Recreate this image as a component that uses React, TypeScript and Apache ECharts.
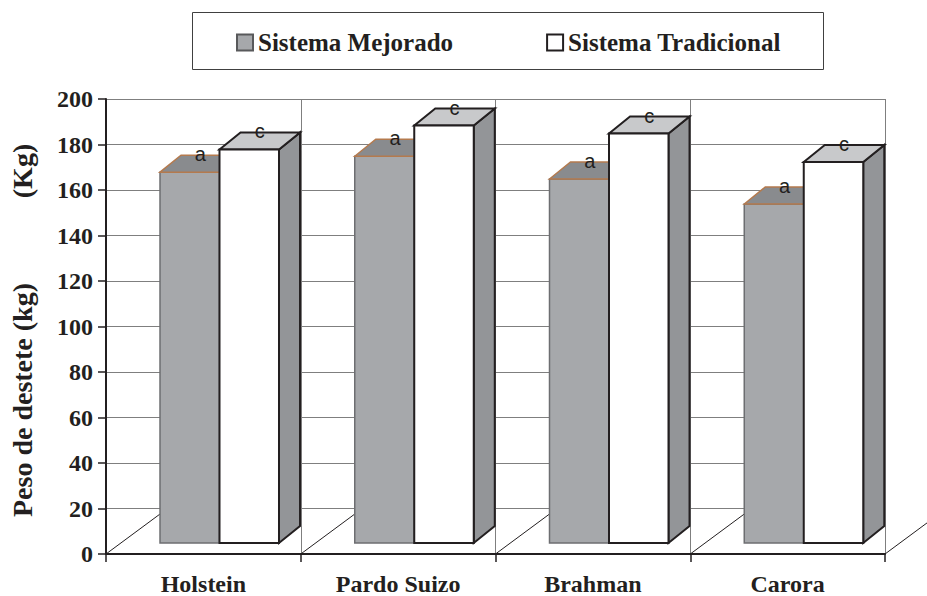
import React, { useEffect, useRef } from "react";
import * as echarts from "echarts";

const categories = ["Holstein", "Pardo Suizo", "Brahman", "Carora"];
const mejorado = [163, 170, 160, 149];
const tradicional = [173, 183.5, 180, 167.5];
const mejoradoLetters = ["a", "a", "a", "a"];
const tradicionalLetters = ["c", "c", "c", "c"];
const yTicks = { min: 0, max: 200, interval: 20 };

const SERIF = "'Liberation Serif', 'Times New Roman', serif";
const SANS = "'Liberation Sans', Arial, sans-serif";
const DARK = "#231f20";

export default function App() {
  const ref = useRef<HTMLDivElement>(null);
  useEffect(() => {
    document.body.style.margin = "0";
    const chart = echarts.init(ref.current!, null, { renderer: "svg" });

    const geom = (api: any, idx: number, v: number, which: number) => {
      const bw = api.size([1, 0])[0];
      const base = api.coord([idx, 0]);
      const top = api.coord([idx, v]);
      const w = bw * 0.3055;
      const left = base[0] - bw / 2 + bw * 0.2773 + which * w;
      const dx = bw * 0.108;
      const dy = 17;
      const B = base[1] - 11;
      const T = top[1] - 11;
      return { left, w, dx, dy, B, T };
    };

    const barItem = (which: number, letters: string[]) => (params: any, api: any) => {
      const idx = api.value(0);
      const v = api.value(1);
      const { left, w, dx, dy, B, T } = geom(api, idx, v, which);
      const R = left + w;
      const children: any[] = [];
      if (which === 0) {
        children.push({
          type: "rect",
          shape: { x: left, y: T, width: w, height: B - T },
          style: { fill: "#a6a8ab", stroke: "#6d6e71", lineWidth: 1.5 },
        });
        children.push({
          type: "polygon",
          shape: { points: [[left, T], [left + dx, T - dy], [R + dx, T - dy], [R, T]] },
          style: { fill: "#898b8e", stroke: "#b47a4e", lineWidth: 1.5 },
        });
      } else {
        children.push({
          type: "polygon",
          shape: { points: [[R, T], [R + dx, T - dy], [R + dx, B - dy], [R, B]] },
          style: { fill: "#939598", stroke: DARK, lineWidth: 2, lineJoin: "miter" },
        });
        children.push({
          type: "polygon",
          shape: { points: [[left, T], [left + dx, T - dy], [R + dx, T - dy], [R, T]] },
          style: { fill: "#c8c9cb", stroke: DARK, lineWidth: 2, lineJoin: "miter" },
        });
        children.push({
          type: "rect",
          shape: { x: left, y: T, width: w, height: B - T },
          style: { fill: "#ffffff", stroke: DARK, lineWidth: 2 },
        });
      }
      children.push({
        type: "text",
        style: {
          x: left + w / 2 + dx / 2,
          y: T - dy - 1,
          text: letters[params.dataIndex],
          fill: DARK,
          font: `20px ${SANS}`,
          textAlign: "center",
          textVerticalAlign: "middle",
        },
      });
      return { type: "group", children };
    };

    const floorItem = (params: any, api: any) => {
      const bw = api.size([1, 0])[0];
      const p = api.coord([api.value(0), 0]);
      const xs = [p[0] - bw / 2];
      if (params.dataIndex === categories.length - 1) xs.push(p[0] + bw / 2);
      return {
        type: "group",
        children: xs.map((x) => ({
          type: "line",
          shape: { x1: x, y1: p[1], x2: x + 62, y2: p[1] - 62 * 0.74 },
          style: { stroke: DARK, lineWidth: 1 },
        })),
      };
    };

    chart.setOption({
      animation: false,
      grid: { left: 106, right: 42, top: 99, bottom: 39, containLabel: false },
      legend: {
        left: 231,
        top: 25,
        itemWidth: 16,
        itemHeight: 16,
        itemGap: 93,
        textStyle: { fontFamily: SERIF, fontWeight: "bold", fontSize: 25, color: DARK },
        data: [
          { name: "Sistema Mejorado", icon: "rect", itemStyle: { color: "#a6a8ab", borderColor: "#58595b", borderWidth: 2 } },
          { name: "Sistema Tradicional", icon: "rect", itemStyle: { color: "#ffffff", borderColor: DARK, borderWidth: 2 } },
        ],
      },
      graphic: [
        {
          type: "rect",
          shape: { x: 192.5, y: 12.5, width: 631, height: 57 },
          style: { fill: "none", stroke: "#404040", lineWidth: 1 },
        },
        {
          type: "text",
          x: 22,
          y: 400,
          rotation: Math.PI / 2,
          style: {
            text: "Peso de destete (kg)",
            font: `bold 28px ${SERIF}`,
            fill: DARK,
            textAlign: "center",
            textVerticalAlign: "middle",
          },
        },
        {
          type: "text",
          x: 22,
          y: 171,
          rotation: Math.PI / 2,
          style: {
            text: "(Kg)",
            font: `bold 28px ${SERIF}`,
            fill: DARK,
            textAlign: "center",
            textVerticalAlign: "middle",
          },
        },
      ],
      xAxis: {
        type: "category",
        data: categories,
        boundaryGap: true,
        axisLine: { lineStyle: { color: DARK, width: 2 } },
        axisTick: { show: true, length: 8, lineStyle: { color: DARK, width: 1.5 } },
        axisLabel: { margin: 18, fontFamily: SERIF, fontWeight: "bold", fontSize: 24, color: DARK },
        splitLine: { show: true, lineStyle: { color: "#7f7f7f", width: 1 } },
      },
      yAxis: {
        type: "value",
        min: yTicks.min,
        max: yTicks.max,
        interval: yTicks.interval,
        axisLine: { show: true, lineStyle: { color: DARK, width: 2 } },
        axisTick: { show: true, length: 8, lineStyle: { color: DARK, width: 1.5 } },
        axisLabel: { margin: 13, fontFamily: SERIF, fontWeight: "bold", fontSize: 24, color: DARK },
        splitLine: { show: true, lineStyle: { color: "#7f7f7f", width: 1 } },
      },
      series: [
        {
          type: "custom",
          name: "floor",
          silent: true,
          renderItem: floorItem,
          data: categories.map((_, i) => [i, 0]),
          z: 1,
        },
        {
          type: "custom",
          name: "Sistema Mejorado",
          renderItem: barItem(0, mejoradoLetters),
          data: mejorado.map((v, i) => [i, v]),
          itemStyle: { color: "#a6a8ab" },
          z: 2,
        },
        {
          type: "custom",
          name: "Sistema Tradicional",
          renderItem: barItem(1, tradicionalLetters),
          data: tradicional.map((v, i) => [i, v]),
          itemStyle: { color: "#ffffff" },
          z: 3,
        },
      ],
    });
    return () => chart.dispose();
  }, []);
  return <div ref={ref} style={{ width: 927, height: 596 }} />;
}
